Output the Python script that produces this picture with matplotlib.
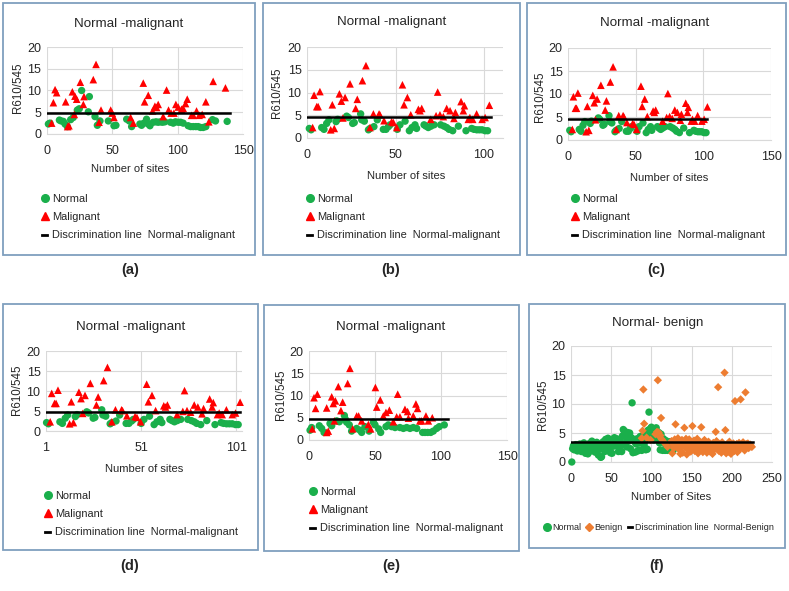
import matplotlib
matplotlib.use('Agg')
import matplotlib.pyplot as plt
import numpy as np
from matplotlib.patches import Rectangle
from matplotlib.lines import Line2D

# =====================================================
# DATA
# =====================================================
# panel (a)
a_norm_x = [1.3, 2.5, 9.7, 11, 12.7, 14, 15.8, 18.3, 20.3, 23.4, 24.9, 26.7, 31.8, 32.6, 36.9,
            38.7, 40.7, 47.1, 51.4, 52.9, 61.1, 63.1, 64.9, 71.2, 72.5, 74.3, 76.3, 77.6, 78.9,
            81.4, 83.5, 85.2, 87, 88.5, 90.3, 94.6, 96.7, 98.4, 100.5, 102.3, 104.3, 108.1, 110,
            112, 114, 115.8, 117.6, 119.6, 121.6, 126.7, 129, 137.9]
a_norm_y = [2.3, 2.5, 3.2, 3.0, 2.9, 2.3, 1.7, 3.3, 3.8, 5.5, 5.8, 10.0, 5.1, 8.6, 4.0,
            2.0, 3.0, 3.0, 1.9, 2.0, 3.4, 3.0, 1.7, 2.3, 2.0, 2.5, 3.4, 2.3, 1.9,
            2.7, 2.8, 2.7, 2.8, 2.7, 2.8, 2.7, 2.5, 2.8, 2.7, 2.7, 2.5, 1.9, 1.7,
            1.7, 1.7, 1.7, 1.5, 1.5, 1.7, 3.3, 3.0, 2.9]
a_mal_x = [3.8, 5.1, 6.4, 7.6, 14.5, 16, 17, 19.6, 21.1, 21.6, 22.9, 25.7, 28, 28.5, 35.6,
           37.7, 40, 41.5, 48.9, 50.1, 51.4, 64.1, 66.2, 73.8, 74.8, 77.6, 80.9, 82.7, 84, 85.2,
           89, 91.6, 93.1, 95.1, 97.2, 98.7, 100.5, 103, 104.3, 106.1, 107.4, 110.7, 112, 114.5,
           116.5, 118.8, 121.6, 123.9, 127.2, 136.6]
a_mal_y = [2.5, 7.2, 10.2, 9.5, 7.4, 1.7, 1.9, 9.7, 4.5, 8.7, 8.0, 11.9, 6.8, 8.6, 12.5,
           16.0, 2.7, 5.5, 5.5, 4.8, 3.8, 3.8, 2.5, 11.7, 7.4, 8.9, 5.3, 6.4, 6.1, 6.8,
           4.0, 10.1, 5.5, 4.8, 4.8, 6.8, 6.2, 5.7, 5.9, 7.0, 8.0, 4.3, 4.3, 5.3,
           4.3, 4.5, 7.4, 2.8, 12.1, 10.6]
a_line_x = [0, 140]
a_line_y = [4.8, 4.8]

# panels (b), (c), (d) show the same sites
b_norm_x = [1.3, 2.3, 8.3, 9.6, 11.1, 12.4, 16.4, 17.3, 22.4, 23.4, 25.8, 26.7, 30.3, 30.9, 32.4,
            34.7, 35.6, 37.8, 39.7, 43.1, 44.6, 46, 46.9, 51, 52.5, 55.4, 57.8, 59.3, 61, 61.9,
            66.1, 67.2, 68.5, 70, 71.8, 75.5, 77.4, 78.9, 80.2, 82.3, 85.5, 89.8, 93, 94.3, 95.9,
            97.4, 98.9, 100.6, 102]
b_norm_y = [2.1, 1.8, 2.3, 1.9, 3.2, 4.0, 3.6, 4.1, 4.8, 4.5, 3.2, 3.4, 5.3, 4.0, 3.7,
            1.8, 2.1, 2.5, 4.0, 1.9, 1.9, 2.5, 2.9, 1.9, 2.9, 3.7, 1.6, 2.3, 2.9, 2.1,
            2.9, 2.6, 2.3, 2.6, 2.9, 2.9, 2.6, 2.3, 1.9, 1.6, 2.6, 1.6, 2.1, 1.9, 1.8,
            1.8, 1.8, 1.6, 1.6]
b_mal_x = [3.2, 4, 5.5, 6.3, 7.3, 13.4, 14.3, 15.4, 18.3, 19.4, 20.3, 21.5, 24.3, 27.5, 28.4,
           31.3, 33.3, 35.6, 37.5, 40.7, 41.2, 43.5, 47.8, 48.8, 50.7, 53.9, 54.8, 56.7, 58.6,
           62.9, 63.8, 64.8, 69.9, 72.9, 73.8, 75.1, 77, 78.9, 80.8, 83, 83.8, 87, 88.3, 88.9,
           91.1, 92, 93.6, 95.8, 98.9, 100.6, 103]
b_mal_y = [2.3, 9.4, 6.9, 6.9, 10.2, 1.8, 7.3, 2.1, 9.7, 8.1, 4.4, 8.9, 11.9, 6.5, 8.5,
           12.6, 15.9, 2.3, 5.3, 5.3, 5.1, 3.8, 3.6, 3.4, 2.3, 11.7, 7.3, 8.9, 5.1,
           6.3, 6.0, 6.5, 4.1, 4.9, 10.1, 5.1, 4.7, 6.5, 6.0, 4.3, 5.6, 8.0, 6.0, 7.1,
           4.1, 4.5, 4.1, 5.3, 4.1, 4.5, 7.2]
b_line_x = [0, 104]
b_line_y = [4.55, 4.55]
c_line_x = [0, 103]
c_line_y = [4.6, 4.6]
d_line_x = [1, 103]
d_line_y = [4.7, 4.7]

# panel (e)
e_norm_x = [0.8, 2, 7.8, 9.6, 11.4, 15.9, 17.2, 21, 23, 26.8, 27.5, 28.5, 30.5, 32.3, 36.1,
            38.6, 39.9, 42.4, 45.5, 48.8, 50, 52.8, 54.3, 58.3, 60.1, 62.6, 65.2, 68.9, 71.5,
            74, 76.5, 79, 81.6, 86.1, 87.9, 89.9, 92.2, 94.2, 96.7, 98.7, 102.5]
e_norm_y = [2.2, 2.8, 3.2, 2.6, 1.7, 3.7, 3.2, 4.3, 4.1, 5.5, 4.7, 4.0, 3.4, 2.0, 2.6,
            2.2, 1.7, 3.0, 2.0, 4.0, 3.4, 2.5, 1.7, 3.0, 3.4, 3.0, 2.8, 2.8, 2.6,
            2.8, 2.6, 2.8, 2.6, 1.7, 1.7, 1.7, 1.7, 2.0, 2.6, 3.0, 3.4]
e_mal_x = [2.5, 3.8, 5, 6.3, 13.4, 13.4, 14.6, 17.2, 18.4, 20, 19.2, 22.2, 24.2, 25.5, 29.3,
           31, 33.1, 36.1, 37.6, 39.9, 45, 46.7, 50.3, 51.3, 54, 56.3, 58.3, 60.9, 63.9, 67.2,
           66.4, 68.9, 72.7, 74.7, 75.3, 79, 81, 82.2, 84, 85.3, 88.6, 90.4, 93.4]
e_mal_y = [2.5, 9.5, 7.1, 10.3, 7.2, 1.7, 2.0, 9.7, 8.2, 8.8, 4.3, 12.0, 6.6, 8.5, 12.7,
           16.1, 2.5, 5.4, 5.4, 4.3, 3.5, 2.5, 11.8, 7.4, 9.0, 5.4, 6.2, 6.7, 4.1, 10.3,
           5.2, 5.2, 6.9, 6.4, 4.9, 5.4, 8.1, 7.1, 4.3, 4.3, 5.4, 4.3, 5.0]
e_line_x = [0, 105]
e_line_y = [4.7, 4.7]

# panel (f) - normal sites numbered 1..127
f_norm_y = [0.0, 2.3, 2.8, 2.1, 2.6, 3.0, 2.4, 1.9, 2.7, 2.2,
            3.1, 2.5, 1.8, 2.9, 2.2, 3.3, 2.0, 1.5, 2.6, 2.1,
            1.4, 2.8, 3.2, 2.4, 1.9, 3.6, 2.7, 2.2, 3.0, 1.7,
            2.5, 3.4, 2.0, 1.2, 2.8, 3.1, 0.8, 0.9, 2.3, 3.5,
            2.6, 1.8, 3.9, 2.9, 2.2, 4.1, 3.0, 2.4, 1.6, 3.3,
            1.5, 2.7, 3.6, 4.2, 2.8, 3.1, 4.0, 3.4, 1.8, 2.5,
            3.8, 2.9, 1.8, 4.5, 5.6, 5.4, 3.2, 4.3, 2.6, 5.1,
            4.8, 3.6, 5.0, 2.3, 4.2, 10.2, 1.6, 3.9, 3.5, 1.7,
            3.1, 4.0, 1.9, 3.7, 2.1, 4.4, 3.3, 2.0, 3.8, 4.6,
            2.9, 3.6, 2.1, 4.9, 2.2, 5.5, 8.6, 4.2, 5.8, 6.0,
            5.2, 4.7, 3.8, 5.4, 4.1, 5.9, 4.5, 3.9, 5.1, 3.3,
            2.1, 4.8, 3.6, 2.0, 4.0, 3.2, 2.0, 3.7, 2.4, 2.0,
            3.1, 2.5, 3.5, 2.2, 2.8, 3.0, 2.0]
f_norm_x = list(range(1, len(f_norm_y) + 1))
# benign sites: a few overlapping the normal range, then sites 125..225
f_ben_x_early = [88, 89, 90, 91, 94, 99, 105, 107, 108, 109, 110, 111, 112, 113, 115, 118, 120]
f_ben_y_early = [4.1, 5.4, 12.5, 6.6, 4.2, 3.8, 4.8, 5.2, 14.1, 5.1, 4.4, 4.6, 7.6, 3.9, 3.5, 3.0, 2.6]
f_ben_y_main = [3.6, 1.5, 3.0, 2.4, 3.9, 6.5, 2.8, 3.4, 4.1, 2.2,
                3.2, 1.4, 2.7, 3.8, 1.6, 3.0, 5.9, 2.5, 4.0, 1.3,
                3.5, 2.1, 3.9, 2.9, 1.8, 3.3, 6.2, 2.6, 3.7, 1.9,
                3.0, 2.4, 4.0, 1.5, 2.8, 3.4, 2.2, 6.0, 3.1, 1.7,
                2.6, 3.8, 2.0, 3.2, 1.6, 2.9, 3.5, 2.3, 1.8, 3.0,
                2.5, 1.4, 3.3, 2.1, 2.8, 5.2, 3.6, 2.2, 12.9, 1.9,
                3.1, 2.4, 1.6, 3.4, 2.0, 2.7, 15.4, 5.5, 1.5, 3.0,
                2.3, 1.8, 3.5, 2.6, 1.4, 2.9, 2.1, 3.2, 1.9, 10.5,
                2.4, 3.1, 1.7, 2.8, 3.3, 2.2, 10.8, 3.0, 2.5, 3.4,
                2.7, 2.0, 12.0, 3.1, 2.6, 3.2, 2.4, 2.9, 3.0, 2.7,
                2.6]
f_ben_x = f_ben_x_early + list(range(125, 125 + len(f_ben_y_main)))
f_ben_y = f_ben_y_early + f_ben_y_main
f_line_x = [0, 226]
f_line_y = [3.45, 3.45]

# =====================================================
# FIGURE SETUP
# =====================================================
W, H = 789, 591
plt.rcParams['font.family'] = ['Liberation Sans', 'DejaVu Sans']

GREEN = '#1aaf4b'
RED = '#ff0000'
ORANGE = '#ed7d31'
BOX = '#7f9fbe'
GRID = '#d9d9d9'
TXT = '#262626'

fig = plt.figure(figsize=(W / 100, H / 100), dpi=100)


def txt(x, y, s, **kw):
    # place text using pixel coordinates (origin top-left)
    kw.setdefault('ha', 'center')
    kw.setdefault('va', 'center')
    kw.setdefault('color', TXT)
    return fig.text(x / W, 1 - y / H, s, **kw)


def make_panel(box, area, xlim, xticks):
    fig.patches.append(Rectangle((box[0] / W, 1 - box[3] / H),
                                 (box[2] - box[0]) / W, (box[3] - box[1]) / H,
                                 transform=fig.transFigure, fill=False,
                                 ec=BOX, lw=1.3))
    ax = fig.add_axes([area[0] / W, 1 - area[3] / H,
                       (area[2] - area[0]) / W, (area[3] - area[1]) / H])
    ax.set_xlim(xlim)
    ax.set_ylim(0, 20)
    ax.set_xticks(xticks)
    ax.set_yticks([0, 5, 10, 15, 20])
    ax.grid(color=GRID, lw=0.8)
    ax.set_axisbelow(True)
    for s in ['top', 'right', 'left']:
        ax.spines[s].set_visible(False)
    ax.spines['bottom'].set_color(GRID)
    ax.tick_params(length=0, labelsize=9, colors=TXT)
    ax.tick_params(axis='x', pad=8)
    ax.tick_params(axis='y', pad=4)
    return ax


def normal_malignant(ax, nx, ny, mx, my, lx, ly):
    ax.scatter(nx, ny, s=28, c=GREEN, marker='o', edgecolors='none', clip_on=False, zorder=3)
    ax.scatter(mx, my, s=30, c=RED, marker='^', edgecolors='none', clip_on=False, zorder=3)
    ax.plot(lx, ly, color='black', lw=1.8, zorder=4)


def nm_legend(x, y):
    handles = [Line2D([], [], ls='none', marker='o', color=GREEN, markersize=5.5),
               Line2D([], [], ls='none', marker='^', color=RED, markersize=5.5),
               Line2D([], [], color='black', lw=2)]
    labels = ['Normal', 'Malignant', 'Discrimination line  Normal-malignant']
    leg = fig.legend(handles, labels, loc='upper left', bbox_to_anchor=(x / W, 1 - y / H),
                     frameon=False, borderpad=0, borderaxespad=0, handlelength=0.5,
                     handletextpad=0.45, labelspacing=0.75, fontsize=7.9)
    for t in leg.get_texts():
        t.set_color(TXT)


def ylab(x, y):
    txt(x, y, 'R610/545', rotation=90, fontsize=8.3)


# =====================================================
# (a)
# =====================================================
ax = make_panel((3, 3, 255, 255), (46.7, 47, 243, 134), (0, 150), [0, 50, 100, 150])
normal_malignant(ax, a_norm_x, a_norm_y, a_mal_x, a_mal_y, a_line_x, a_line_y)
txt(129, 24, 'Normal -malignant', fontsize=9.6)
txt(130, 169, 'Number of sites', fontsize=8)
ylab(18, 88)
nm_legend(42, 194)
txt(130, 270, '(a)', fontsize=10.5, fontweight='bold')

# =====================================================
# (b)
# =====================================================
ax = make_panel((263, 3, 520, 255), (307, 47, 503, 138), (0, 110.7), [0, 50, 100])
normal_malignant(ax, b_norm_x, b_norm_y, b_mal_x, b_mal_y, b_line_x, b_line_y)
txt(392, 22, 'Normal -malignant', fontsize=9.6)
txt(406, 176, 'Number of sites', fontsize=8)
ylab(277, 93)
nm_legend(307, 194)
txt(391, 270, '(b)', fontsize=10.5, fontweight='bold')

# =====================================================
# (c)
# =====================================================
ax = make_panel((527, 3, 786, 255), (568, 48, 771, 140), (0, 150), [0, 50, 100, 150])
normal_malignant(ax, b_norm_x, b_norm_y, b_mal_x, b_mal_y, c_line_x, c_line_y)
txt(655, 23, 'Normal -malignant', fontsize=9.6)
txt(669, 178, 'Number of sites', fontsize=8)
ylab(540, 97)
nm_legend(572, 194)
txt(656, 270, '(c)', fontsize=10.5, fontweight='bold')

# =====================================================
# (d)
# =====================================================
ax = make_panel((3, 304, 258, 550), (46, 351, 242, 431), (1, 104), [1, 51, 101])
normal_malignant(ax, b_norm_x, b_norm_y, b_mal_x, b_mal_y, d_line_x, d_line_y)
txt(131, 327, 'Normal -malignant', fontsize=9.6)
txt(144, 469, 'Number of sites', fontsize=8)
ylab(17, 390)
nm_legend(45, 491)
txt(130, 566, '(d)', fontsize=10.5, fontweight='bold')

# =====================================================
# (e)
# =====================================================
ax = make_panel((264, 305, 519, 551), (309, 351, 507, 440), (0, 150), [0, 50, 100, 150])
normal_malignant(ax, e_norm_x, e_norm_y, e_mal_x, e_mal_y, e_line_x, e_line_y)
txt(391, 327, 'Normal -malignant', fontsize=9.6)
ylab(281, 395)
nm_legend(310, 487)
txt(391, 566, '(e)', fontsize=10.5, fontweight='bold')

# =====================================================
# (f)
# =====================================================
ax = make_panel((529, 304, 785, 548), (571, 346, 772, 462), (0, 250), [0, 50, 100, 150, 200, 250])
ax.scatter(f_norm_x, f_norm_y, s=28, c=GREEN, marker='o', edgecolors='none', clip_on=False, zorder=3)
ax.scatter(f_ben_x, f_ben_y, s=18, c=ORANGE, marker='D', edgecolors='none', clip_on=False, zorder=3)
ax.plot(f_line_x, f_line_y, color='black', lw=1.8, zorder=4)
txt(658, 323, 'Normal- benign', fontsize=9.6)
txt(671, 497, 'Number of Sites', fontsize=8)
ylab(543, 405)
handles = [Line2D([], [], ls='none', marker='o', color=GREEN, markersize=5.5),
           Line2D([], [], ls='none', marker='D', color=ORANGE, markersize=4),
           Line2D([], [], color='black', lw=2)]
leg = fig.legend(handles, ['Normal', 'Benign', 'Discrimination line  Normal-Benign'],
                 loc='upper left', bbox_to_anchor=(545 / W, 1 - 523 / H), ncol=3,
                 frameon=False, borderpad=0, borderaxespad=0, handlelength=0.5,
                 handletextpad=0.3, columnspacing=0.6, fontsize=6.5)
for t in leg.get_texts():
    t.set_color(TXT)
txt(657, 566, '(f)', fontsize=10.5, fontweight='bold')

plt.savefig('out.png', dpi=100)
